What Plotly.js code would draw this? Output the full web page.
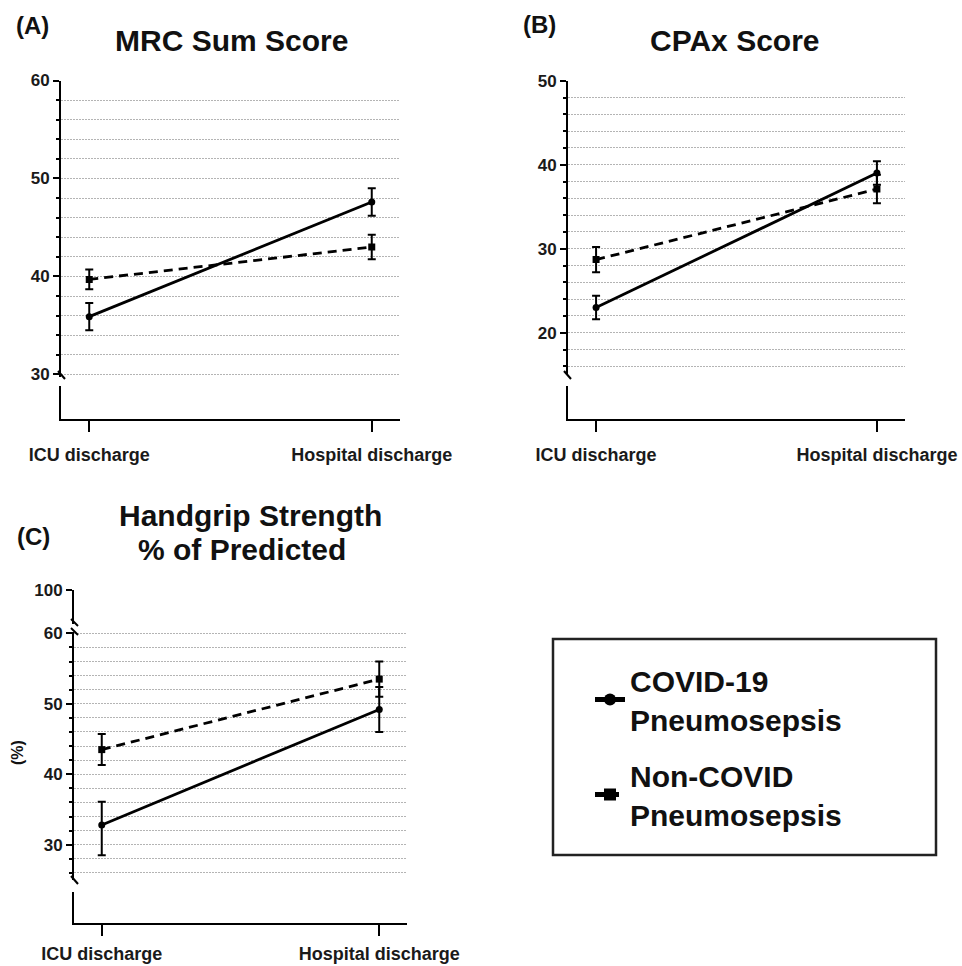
<!DOCTYPE html>
<html>
<head>
<meta charset="utf-8">
<script src="https://cdn.plot.ly/plotly-3.0.1.min.js"></script>
<style>html,body{margin:0;padding:0;background:#fff;}#chart{width:962px;height:966px;}</style>
</head>
<body>
<div id="chart"></div>
<script>
// ---- data ----
var categories = ['ICU discharge', 'Hospital discharge'];
var seriesNames = ['COVID-19<br>Pneumosepsis', 'Non-COVID<br>Pneumosepsis'];

var mrcCovid = [35.9, 47.6];
var mrcCovidErr = [1.4, 1.4];
var mrcNon = [39.7, 43.0];
var mrcNonErr = [1.0, 1.25];

var cpaxCovid = [23.0, 39.0];
var cpaxCovidErr = [1.4, 1.4];
var cpaxNon = [28.7, 37.1];
var cpaxNonErr = [1.5, 1.7];

var hgsCovid = [32.8, 49.2];
var hgsCovidErrPlus = [3.3, 3.2];
var hgsCovidErrMinus = [4.3, 3.2];
var hgsNon = [43.5, 53.5];
var hgsNonErr = [2.2, 2.5];

var mrcTicks = [30, 40, 50, 60];
var mrcGrid = [30, 32, 34, 36, 38, 40, 42, 44, 46, 48, 50, 52, 54, 56, 58];
var cpaxTicks = [20, 30, 40, 50];
var cpaxGrid = [16, 18, 20, 22, 24, 26, 28, 30, 32, 34, 36, 38, 40, 42, 44, 46, 48];
var hgsTicks = [30, 40, 50, 60];
var hgsGrid = [26, 28, 30, 32, 34, 36, 38, 40, 42, 44, 46, 48, 50, 52, 54, 56, 58, 60];
var hgsTopTicks = [100];

// ---- helpers ----
var W = 962, H = 966;
function fx(p) { return p / W; }
function fy(p) { return 1 - p / H; }
var FONT = 'Liberation Sans, Arial, Helvetica, sans-serif';
var GRIDCOL = '#b4b4b4';

function mkTrace(x, y, err, errMinus, dash, symbol, xa, ya, show, name, grp) {
  var e = {type: 'data', array: err, color: '#000', thickness: 2, width: 4, visible: true};
  if (errMinus) { e.symmetric = false; e.arrayminus = errMinus; }
  return {
    x: x, y: y, type: 'scatter', mode: 'lines+markers', name: name, legendgroup: grp,
    xaxis: xa, yaxis: ya, showlegend: show, hoverinfo: 'skip',
    line: {color: '#000', width: 2.8, dash: dash},
    marker: {color: '#000', size: 7, symbol: symbol},
    error_y: e
  };
}
// invisible helper trace so that an axis-only subplot is created
function axisHolder(xa, ya) {
  return {x: categories, y: [null, null], type: 'scatter', mode: 'lines', xaxis: xa, yaxis: ya,
          showlegend: false, hoverinfo: 'skip', line: {width: 0}};
}

var traces = [
  mkTrace(categories, mrcCovid, mrcCovidErr, null, 'solid', 'circle', 'x', 'y', true, seriesNames[0], 'g1'),
  mkTrace(categories, mrcNon, mrcNonErr, null, '9px,6px', 'square', 'x', 'y', true, seriesNames[1], 'g2'),
  mkTrace(categories, cpaxCovid, cpaxCovidErr, null, 'solid', 'circle', 'x2', 'y4', false, seriesNames[0], 'g1'),
  mkTrace(categories, cpaxNon, cpaxNonErr, null, '9px,6px', 'square', 'x2', 'y4', false, seriesNames[1], 'g2'),
  mkTrace(categories, hgsCovid, hgsCovidErrPlus, hgsCovidErrMinus, 'solid', 'circle', 'x3', 'y7', false, seriesNames[0], 'g1'),
  mkTrace(categories, hgsNon, hgsNonErr, null, '9px,6px', 'square', 'x3', 'y7', false, seriesNames[1], 'g2'),
  axisHolder('x', 'y2'), axisHolder('x', 'y3'),
  axisHolder('x2', 'y5'), axisHolder('x2', 'y6'),
  axisHolder('x3', 'y8'), axisHolder('x3', 'y9'), axisHolder('x3', 'y10')
];

function xAxis(d0, d1, anchor, standoff) {
  return {
    domain: [fx(d0), fx(d1)], anchor: anchor, type: 'category', range: [-0.1, 1.1],
    showline: true, linewidth: 2, linecolor: '#000', ticks: 'outside', ticklen: 11, tickwidth: 2,
    tickcolor: '#000', showgrid: false, zeroline: false, fixedrange: true,
    tickfont: {family: FONT, size: 18, color: '#1a1a1a', weight: 'bold'}, ticklabelstandoff: standoff
  };
}
function yMain(top, bot, range, ticks, anchor) {
  return {
    domain: [fy(bot), fy(top)], anchor: anchor, range: range, tickmode: 'array', tickvals: ticks,
    showline: true, linewidth: 2, linecolor: '#000', ticks: 'outside', ticklen: 6, tickwidth: 2,
    tickcolor: '#000', showgrid: false, zeroline: false, fixedrange: true,
    tickfont: {family: FONT, size: 17, color: '#1a1a1a', weight: 'bold'},
    minor: {dtick: 2, tick0: 0, ticks: 'outside', ticklen: 3, tickwidth: 2, tickcolor: '#000', showgrid: false}
  };
}
function yGrid(over, range, grid, anchor) {
  return {
    overlaying: over, anchor: anchor, range: range, tickmode: 'array', tickvals: grid,
    showgrid: true, gridcolor: GRIDCOL, gridwidth: 1, griddash: '2px,1px',
    showticklabels: false, ticks: '', showline: false, zeroline: false, fixedrange: true
  };
}
function ySeg(top, bot, anchor) {
  return {
    domain: [fy(bot), fy(top)], anchor: anchor, range: [0, 1], showline: true, linewidth: 2,
    linecolor: '#000', ticks: '', showticklabels: false, showgrid: false, zeroline: false, fixedrange: true
  };
}

var mrcRange = [29.7, 60], cpaxRange = [15, 50], hgsRange = [25, 60.2];

var layout = {
  width: W, height: H, margin: {l: 0, r: 0, t: 0, b: 0},
  paper_bgcolor: '#fff', plot_bgcolor: 'rgba(0,0,0,0)',
  showlegend: true,
  legend: {
    x: fx(590), y: fy(654), xanchor: 'left', yanchor: 'top',
    font: {family: FONT, size: 30, color: '#111', weight: 'bold'},
    bgcolor: 'rgba(0,0,0,0)', borderwidth: 0, valign: 'middle',
    traceorder: 'grouped', tracegroupgap: 14, itemsizing: 'constant'
  },
  // Panel A
  xaxis: xAxis(61, 400, 'y3', 7),
  yaxis: yMain(80.5, 377.4, mrcRange, mrcTicks, 'x'),
  yaxis2: yGrid('y', mrcRange, mrcGrid, 'x'),
  yaxis3: ySeg(386, 419, 'x'),
  // Panel B
  xaxis2: xAxis(568, 905, 'y6', 7),
  yaxis4: yMain(80.7, 374.7, cpaxRange, cpaxTicks, 'x2'),
  yaxis5: yGrid('y4', cpaxRange, cpaxGrid, 'x2'),
  yaxis6: ySeg(386, 419, 'x2'),
  // Panel C
  xaxis3: xAxis(74, 407, 'y9', 2),
  yaxis7: yMain(631.9, 880, hgsRange, hgsTicks, 'x3'),
  yaxis8: yGrid('y7', hgsRange, hgsGrid, 'x3'),
  yaxis9: ySeg(891.7, 923.3, 'x3'),
  yaxis10: {
    domain: [fy(624), fy(590)], anchor: 'x3', range: [90, 100], tickmode: 'array', tickvals: hgsTopTicks,
    showline: true, linewidth: 2, linecolor: '#000', ticks: 'outside', ticklen: 6, tickwidth: 2,
    tickcolor: '#000', showgrid: false, zeroline: false, fixedrange: true,
    tickfont: {family: FONT, size: 17, color: '#1a1a1a', weight: 'bold'}
  },
  annotations: [
    {text: '(A)', x: fx(32), y: fy(26)},
    {text: 'MRC Sum Score', x: fx(231), y: fy(40), size: 30},
    {text: '(B)', x: fx(539), y: fy(24)},
    {text: 'CPAx Score', x: fx(735), y: fy(40), size: 30},
    {text: '(C)', x: fx(33), y: fy(536)},
    {text: 'Handgrip Strength', x: fx(250), y: fy(515), size: 30},
    {text: '% of Predicted', x: fx(242), y: fy(549), size: 30},
    {text: '(%)', x: fx(17), y: fy(753), size: 16, rot: -90}
  ].map(function (a) {
    return {
      text: a.text, x: a.x, y: a.y, xref: 'paper', yref: 'paper', xanchor: 'center', yanchor: 'middle',
      showarrow: false, textangle: a.rot || 0,
      font: {family: FONT, size: a.size || 24, color: '#111', weight: 'bold'}
    };
  }),
  shapes: [
    // legend frame
    {type: 'rect', xref: 'paper', yref: 'paper', x0: fx(553), x1: fx(936), y0: fy(855), y1: fy(639),
     line: {color: '#222', width: 2.5}},
    // axis break marks
    {type: 'line', xref: 'paper', yref: 'paper', x0: fx(58), y0: fy(371), x1: fx(65), y1: fy(379), line: {color: '#000', width: 2}},
    {type: 'line', xref: 'paper', yref: 'paper', x0: fx(564), y0: fy(371), x1: fx(571), y1: fy(379), line: {color: '#000', width: 2}},
    {type: 'line', xref: 'paper', yref: 'paper', x0: fx(71), y0: fy(619), x1: fx(78), y1: fy(626), line: {color: '#000', width: 2}},
    {type: 'line', xref: 'paper', yref: 'paper', x0: fx(71), y0: fy(628), x1: fx(78), y1: fy(635), line: {color: '#000', width: 2}},
    {type: 'line', xref: 'paper', yref: 'paper', x0: fx(71), y0: fy(876), x1: fx(78), y1: fy(884), line: {color: '#000', width: 2}}
  ]
};

Plotly.newPlot('chart', traces, layout, {staticPlot: true, displayModeBar: false});
</script>
</body>
</html>
